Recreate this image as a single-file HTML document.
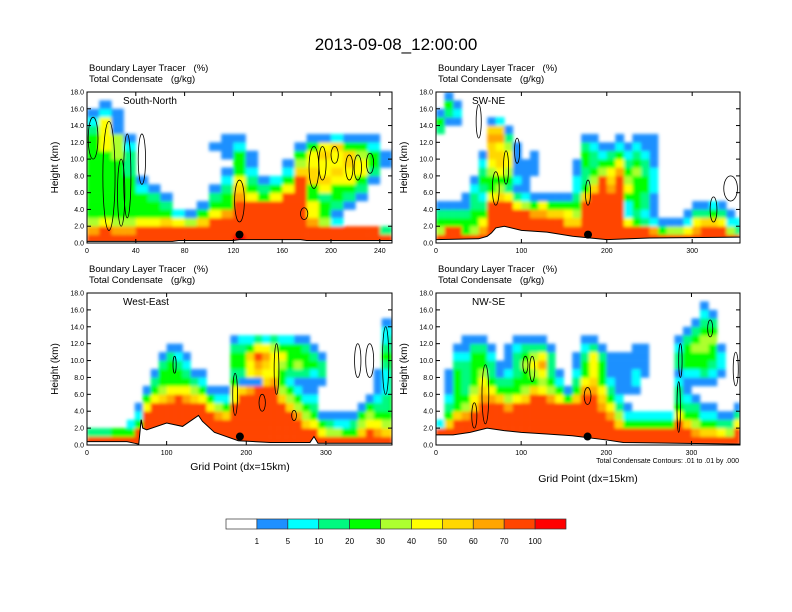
<!DOCTYPE html>
<html><head><meta charset="utf-8"><style>
body{margin:0;background:#fff;}
svg{display:block;font-family:"Liberation Sans",Arial,sans-serif;}
text{white-space:pre;}
</style></head><body>
<svg id="fig" width="792" height="612" viewBox="0 0 792 612">
<defs><filter id="soft" x="-2%" y="-2%" width="104%" height="104%"><feGaussianBlur stdDeviation="1.6"/></filter></defs>
<text x="396" y="50" text-anchor="middle" font-size="17">2013-09-08_12:00:00</text>
</svg>
<script>
const levelColors = {"0":"#ffffff","1":"#1e90ff","2":"#00ffff","3":"#00fa80","4":"#00ff00","5":"#adff2f","6":"#ffff00","7":"#ffd700","8":"#ffa500","9":"#ff4500","R":"#ff0000"};
const colorbarLabels = ["1","5","10","20","30","40","50","60","70","100"];
const colorbarColors = ["#ffffff","#1e90ff","#00ffff","#00fa80","#00ff00","#adff2f","#ffff00","#ffd700","#ffa500","#ff4500","#ff0000"];
const yTicks = [0,2,4,6,8,10,12,14,16,18];

const p1Cols = ["9854444444444321","99644444444666621","9854444444555111","9854444433321","99644421","9964431","997431","9962","9951","99741","99964310000111".slice(0,12),"99984432101 1".replace(" ","1"),"R9999876444 21".replace(" ",""),"99999643211","99999431","99999642","9999996421","999999997541","9986644776641","9954436766761","9921344676672","9900134667741","9900013466541","9900000134421","93000000011"];
const p2Cols = ["9543100000000341","994310000000001341","99431000000000121","944311","95443321","98643234321","999996445677871","999997546776872","99999634566531","999963121111","9999521111","99984100111","999861","999741","999741","997641","9975432211","9999974334431","9999997543321","999999995421","999999876431","9999999986421","996224654321","9943444454321","9932334433211","9821112221111","941","951","951","9621","98631","99731","99742","99631","9521","932"];
const p3Cols = ["93","93","93","94","94","942","99421","9999641","999996431","99999754431","999998644431","999999644321","99999864321","999997531","999996421","9999641","9998521","9997421","9999966434431","9999997134432","9999998166742","9999999178963","9999999767862","9999999866653","9999975445642","9999754234442","9998542135441","9975421134431","996432112431","96410001331","9531","9521","9421","9431","97541","996541","986432111","975433222343221","975444444443321"];
const p4Cols = ["992","997432111","999744444321","9998543333211","9999765444431","9999987654431","999998643321","9999974311","999985432111","9999964433321","9999975445431","9999997456531","9999996568631","999998543331","999996421","9999941","99999743211","9999998644321","9999998766631","999987644431","99986432111","99753211111","99421011111","994200122111","994200001111","9942","9942","9942","9996433213321","99743211244431","985431012445431","97421001344554321","9742100123445431","963100001221","9531","99631"];

const p1TerrX = [0,60,70,75,120,125,175,180,250];
const p1TerrH = [0.2,0.2,0.2,0.3,0.3,0.4,0.4,0.3,0.3];
const p2TerrX = [0,50,60,65,70,80,100,130,160,200,250,356];
const p2TerrH = [0.4,0.5,0.8,1.2,1.8,2.0,1.5,1.3,0.8,0.4,0.6,0.7];
const p3TerrX = [0,50,60,65,68,70,75,100,120,140,145,160,190,230,280,285,290,383];
const p3TerrH = [0.4,0.4,0.2,0.1,3.0,2.0,1.8,2.6,2.2,3.5,2.8,1.5,0.5,0.3,0.3,1.0,0.2,0.2];
const p4TerrX = [0,20,40,60,80,100,130,160,200,220,357];
const p4TerrH = [1.2,1.2,1.5,2.0,1.7,1.5,1.3,1.1,0.6,0.3,0.1];

// condensate contours: [grid x, km, half-width gp, half-height km]
const p1Contours = [[5,12.5,4,2.5],[18,8,5,6.5],[28,6,3,4],[33,8,3,5],[45,10,3,3],[125,5,4,2.5],[178,3.5,3,0.7],[186,9,4,2.5],[203,10.5,3,1],[215,9,3,1.5],[222,9,3,1.5],[232,9.5,3,1.2],[193,9.5,3,2]];
const p2Contours = [[50,14.5,3,2],[70,6.5,4,2],[82,9,3,2],[95,11,3,1.5],[178,6,3,1.5],[345,6.5,8,1.5],[325,4,4,1.5]];
const p3Contours = [[110,9.5,2,1],[186,6,3,2.5],[238,9,3,3],[220,5,4,1],[260,3.5,3,0.6],[340,10,4,2],[355,10,5,2],[375,10,4,4]];
const p4Contours = [[58,6,4,3.5],[45,3.5,3,1.5],[105,9.5,3,1],[113,9,3,1.5],[178,5.8,4,1],[285,4.5,2,3],[287,10,2,2],[322,13.8,3,1],[352,9,3,2]];

const panels = [
 {name:"south-north",label:"South-North",x0:87,x1:392,y0:92,y1:243,xmax:250,xticks:[0,40,80,120,160,200,240],cols:p1Cols,tx:p1TerrX,th:p1TerrH,dot:125,ct:p1Contours},
 {name:"sw-ne",label:"SW-NE",x0:436,x1:740,y0:92,y1:243,xmax:356,xticks:[0,100,200,300],cols:p2Cols,tx:p2TerrX,th:p2TerrH,dot:178,ct:p2Contours},
 {name:"west-east",label:"West-East",x0:87,x1:392,y0:293,y1:445,xmax:383,xticks:[0,100,200,300],cols:p3Cols,tx:p3TerrX,th:p3TerrH,dot:192,ct:p3Contours},
 {name:"nw-se",label:"NW-SE",x0:436,x1:740,y0:293,y1:445,xmax:357,xticks:[0,100,200,300],cols:p4Cols,tx:p4TerrX,th:p4TerrH,dot:178,ct:p4Contours}
];

const NS="http://www.w3.org/2000/svg";
const svg=document.getElementById("fig");
function mk(tag,attrs,parent){const e=document.createElementNS(NS,tag);for(const k in attrs)e.setAttribute(k,attrs[k]);(parent||svg).appendChild(e);return e;}

panels.forEach((p,pi)=>{
  const g=mk("g",{});
  
  
  const sx=v=>p.x0+(v/p.xmax)*(p.x1-p.x0);
  const sy=v=>p.y1-(v/18)*(p.y1-p.y0);
  const t1=mk("text",{x:p.x0+2,y:p.y0-21,"font-size":"9.5"},g);t1.textContent="Boundary Layer Tracer   (%)";
  
  
  const t2=mk("text",{x:p.x0+2,y:p.y0-10,"font-size":"9.5"},g);t2.textContent="Total Condensate   (g/kg)";
  
  
  const clip=mk("clipPath",{id:"clip"+pi},g);
  mk("rect",{x:p.x0,y:p.y0,width:p.x1-p.x0,height:p.y1-p.y0},clip);
  const cg=mk("g",{"clip-path":"url(#clip"+pi+")"},g);
  const fg=mk("g",{filter:"url(#soft)"},cg);
  
  
  p.cols.forEach((col,ci)=>{
    const gx0=ci*10, gx1=Math.min(ci*10+10,p.xmax);
    for(let k=0;k<col.length;k++){
      const c=col[k]; if(c==="0") continue;
      const r=mk("rect",{x:sx(gx0),y:sy(k+1),width:sx(gx1)-sx(gx0)+0.3,height:sy(k)-sy(k+1)+0.3,fill:levelColors[c]||"#fff"},fg);
      
      
    }
  });
  let d="M"+sx(p.tx[0])+","+sy(0);
  p.tx.forEach((x,i)=>{d+=" L"+sx(x)+","+sy(p.th[i]);});
  d+=" L"+sx(p.tx[p.tx.length-1])+","+sy(0)+" Z";
  const tp=mk("path",{d:d,fill:"#fff",stroke:"none"},cg);
  
  
  p.ct.forEach(c=>{
    const e=mk("ellipse",{cx:sx(c[0]),cy:sy(c[1]),rx:sx(c[2])-sx(0),ry:sy(0)-sy(c[3]),fill:"none",stroke:"#000","stroke-width":"0.8"},cg);
    
    
  });
  let dl="";p.tx.forEach((x,i)=>{dl+=(i?" L":"M")+sx(x)+","+sy(p.th[i]);});
  const tl=mk("path",{d:dl,fill:"none",stroke:"#000","stroke-width":"1"},g);
  
  
  const dot=mk("circle",{cx:sx(p.dot),cy:sy(1),r:4,fill:"#000"},g);
  
  
  const fr=mk("rect",{x:p.x0,y:p.y0,width:p.x1-p.x0,height:p.y1-p.y0,fill:"none",stroke:"#000","stroke-width":"1"},g);
  
  
  yTicks.forEach(v=>{
    const y=sy(v);
    mk("line",{x1:p.x0,x2:p.x0+4,y1:y,y2:y,stroke:"#000"},g);
    mk("line",{x1:p.x1,x2:p.x1-4,y1:y,y2:y,stroke:"#000"},g);
    const tt=mk("text",{x:p.x0-3,y:y+2.5,"font-size":"7","text-anchor":"end"},g);tt.textContent=v.toFixed(1);
    
    
  });
  p.xticks.forEach(v=>{
    const x=sx(v);
    mk("line",{x1:x,x2:x,y1:p.y1,y2:p.y1-4,stroke:"#000"},g);
    mk("line",{x1:x,x2:x,y1:p.y0,y2:p.y0+4,stroke:"#000"},g);
    const tt=mk("text",{x:x,y:p.y1+10,"font-size":"7","text-anchor":"middle"},g);tt.textContent=v;
    
    
  });
  const yt=mk("text",{x:0,y:0,"font-size":"10","text-anchor":"middle",transform:"translate("+(p.x0-29)+","+((p.y0+p.y1)/2)+") rotate(-90)"},g);yt.textContent="Height (km)";
  
  
  const nm=mk("text",{x:p.x0+36,y:p.y0+12,"font-size":"10"},g);nm.textContent=p.label;
  
  
});

const xt1=mk("text",{x:240,y:470,"font-size":"10.5","text-anchor":"middle"});xt1.textContent="Grid Point (dx=15km)";


const xt2=mk("text",{x:588,y:482,"font-size":"10.5","text-anchor":"middle"});xt2.textContent="Grid Point (dx=15km)";


const note=mk("text",{x:739,y:463,"font-size":"7","text-anchor":"end"});note.textContent="Total Condensate Contours: .01 to .01 by .000";



const cbx=226,cbw=340/11;
colorbarColors.forEach((c,i)=>{
  const r=mk("rect",{x:cbx+i*cbw,y:519,width:cbw,height:10,fill:c,stroke:"#333","stroke-width":"0.7"});
  
  
});
colorbarLabels.forEach((l,i)=>{
  const t=mk("text",{x:cbx+(i+1)*cbw,y:544,"font-size":"8","text-anchor":"middle"});t.textContent=l;
  
  
});
</script>
</body></html>
